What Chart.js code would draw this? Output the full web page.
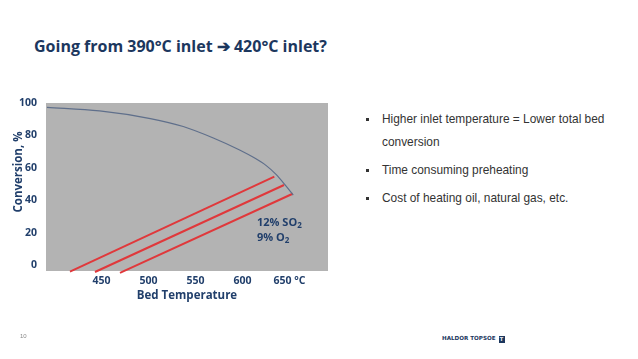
<!DOCTYPE html>
<html>
<head>
<meta charset="utf-8">
<script src="https://cdn.jsdelivr.net/npm/chart.js@4.4.1/dist/chart.umd.min.js"></script>
<style>
  html, body { margin: 0; padding: 0; background: #fff; }
  body { width: 638px; height: 359px; overflow: hidden; position: relative; font-family: "Open Sans", sans-serif; }
  #title { position: absolute; left: 34px; top: 35px; font-weight: 700; font-size: 16px; color: #1c375e; white-space: nowrap; }
  #wrap { position: absolute; left: 0; top: 85px; width: 340px; height: 225px; }
  #ytitle { position: absolute; left: 17px; top: 172px; transform: translate(-50%, -50%) rotate(-90deg); font-weight: 700; font-size: 11.5px; color: #213f6b; white-space: nowrap; }
  #note { position: absolute; left: 257px; top: 214px; font-weight: 700; font-size: 11px; color: #213f6b; line-height: 15px; }
  #note sub { font-size: 8px; vertical-align: -2px; line-height: 0; }
  ul { position: absolute; left: 366px; top: 108px; margin: 0; padding: 0; list-style: none; font-family: "Liberation Sans", Arial, sans-serif; font-size: 11.9px; color: #333; line-height: 23px; }
  li { position: relative; padding-left: 16px; margin-bottom: 5px; width: 246px; }
  li::before { content: ""; position: absolute; left: 0; top: 10px; width: 3px; height: 3px; background: #333; }
  #pg { position: absolute; left: 20px; top: 333px; font-family: "Liberation Sans", Arial, sans-serif; font-size: 6px; color: #888; }
  #logo { position: absolute; left: 442px; top: 335px; font-family: "DejaVu Sans", sans-serif; font-weight: 700; font-size: 5.6px; color: #1c375e; white-space: nowrap; }
  #logo span { display: inline-block; width: 6px; height: 7px; margin-left: 3px; background: #1c375e; color: #fff; font-size: 5px; text-align: center; line-height: 7px; vertical-align: -1px; }
</style>
</head>
<body>
<div id="title">Going from 390°C inlet ➔ 420°C inlet?</div>
<div id="wrap"><canvas id="convChart"></canvas></div>
<div id="ytitle">Conversion, %</div>
<div id="note">12% SO<sub>2</sub><br>9% O<sub>2</sub></div>
<ul>
  <li>Higher inlet temperature = Lower total bed conversion</li>
  <li>Time consuming preheating</li>
  <li>Cost of heating oil, natural gas, etc.</li>
</ul>
<div id="pg">10</div>
<div id="logo">HALDOR TOPSOE<span>T</span></div>
<script>
// equilibrium curve (bed temperature, conversion %)
const curveTemp = [392, 448, 502, 537, 569, 597, 613, 625, 636, 646, 654];
const curveConv = [97.3, 95.1, 90.4, 85.5, 78.4, 71.0, 66.0, 61.5, 55.8, 49.0, 43.2];

// adiabatic operating lines (start / end)
const line1Temp = [416.5, 633.9];
const line1Conv = [-4.1, 54.6];
const line2Temp = [443.1, 644.2];
const line2Conv = [-4.3, 49.4];
const line3Temp = [469.7, 653.4];
const line3Conv = [-4.9, 44.0];

const xTicks = [450, 500, 550, 600, 650];
const yTicks = [0, 20, 40, 60, 80, 100];

const navy = "#213f6b";
const toPts = (xs, ys) => xs.map((x, i) => ({ x, y: ys[i] }));

const grayArea = {
  id: "grayArea",
  beforeDatasetsDraw(chart) {
    const { ctx, chartArea: a } = chart;
    ctx.save();
    ctx.fillStyle = "#b3b3b3";
    ctx.fillRect(a.left, a.top, a.right - a.left, a.bottom - a.top);
    ctx.restore();
  },
};

const redLine = (xs, ys) => ({
  data: toPts(xs, ys),
  borderColor: "#e0383b",
  borderWidth: 2,
  pointRadius: 0,
  clip: { left: 0, top: 0, right: 0, bottom: 4 },
});

new Chart(document.getElementById("convChart"), {
  type: "line",
  data: {
    datasets: [
      {
        data: toPts(curveTemp, curveConv),
        borderColor: "#5f6f8b",
        borderWidth: 1.2,
        pointRadius: 0,
        cubicInterpolationMode: "monotone",
      },
      redLine(line1Temp, line1Conv),
      redLine(line2Temp, line2Conv),
      redLine(line3Temp, line3Conv),
    ],
  },
  plugins: [grayArea],
  options: {
    responsive: true,
    maintainAspectRatio: false,
    animation: false,
    layout: { padding: { top: 18, right: 12, left: 0, bottom: 0 } },
    plugins: { legend: { display: false }, tooltip: { enabled: false } },
    scales: {
      x: {
        type: "linear",
        min: 391,
        max: 691,
        afterBuildTicks: s => { s.ticks = xTicks.map(v => ({ value: v })); },
        afterFit: s => { s.height = 39; },
        grid: { display: false, drawTicks: false },
        border: { display: false },
        ticks: {
          padding: 4,
          color: navy,
          font: { family: "Open Sans", weight: "bold", size: 10.5 },
          maxRotation: 0,
          callback: v => (v === 650 ? "650 °C" : String(v)),
        },
        title: {
          display: true,
          text: "Bed Temperature",
          color: navy,
          font: { family: "Open Sans", weight: "bold", size: 11.5 },
          padding: { top: 0, bottom: 7 },
        },
      },
      y: {
        min: -3.7,
        max: 100,
        afterBuildTicks: s => { s.ticks = yTicks.map(v => ({ value: v })); },
        afterFit: s => { s.width = 46; },
        grid: { display: false, drawTicks: false },
        border: { display: false },
        ticks: {
          padding: 9,
          color: navy,
          font: { family: "Open Sans", weight: "bold", size: 10.5 },
        },
      },
    },
  },
});
</script>
</body>
</html>
